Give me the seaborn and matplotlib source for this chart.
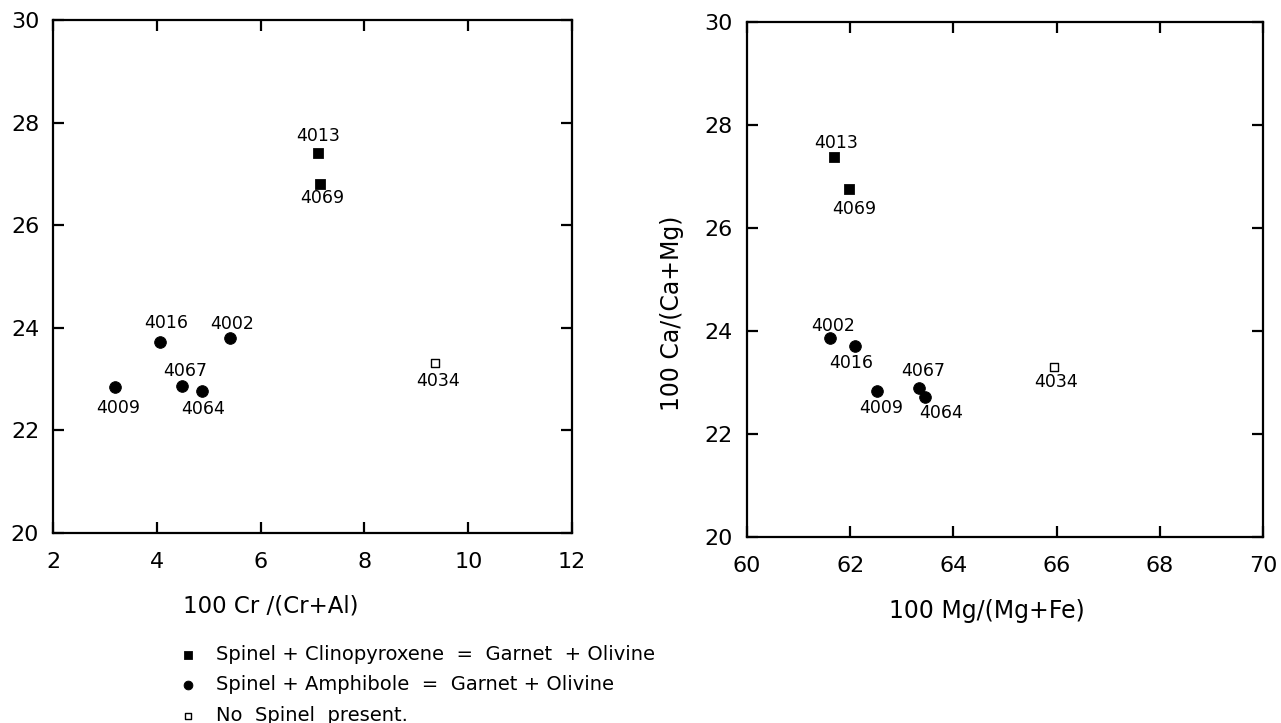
import pandas as pd
import matplotlib
matplotlib.use('Agg')
import matplotlib.pyplot as plt
import seaborn as sns

sns.set_style('ticks')
plt.rcParams['font.family'] = ['DejaVu Sans']
plt.rcParams['text.color'] = 'black'
plt.rcParams['axes.edgecolor'] = 'black'
plt.rcParams['axes.labelcolor'] = 'black'
plt.rcParams['xtick.color'] = 'black'
plt.rcParams['ytick.color'] = 'black'

# 样品数据
samples = ['4013', '4069', '4016', '4002', '4009', '4067', '4064', '4034']
groups = ['cpx', 'cpx', 'amph', 'amph', 'amph', 'amph', 'amph', 'none']
cr_al = [7.10, 7.14, 4.06, 5.41, 3.20, 4.49, 4.87, 9.35]
mg_fe = [61.68, 61.97, 62.09, 61.60, 62.53, 63.33, 63.46, 65.96]
ca_mg_left = [27.41, 26.80, 23.72, 23.81, 22.84, 22.87, 22.76, 23.31]
ca_mg_right = [27.37, 26.76, 23.70, 23.87, 22.83, 22.89, 22.72, 23.31]

legend_labels = {
    'cpx': 'Spinel + Clinopyroxene  =  Garnet  + Olivine',
    'amph': 'Spinel + Amphibole  =  Garnet + Olivine',
    'none': 'No  Spinel  present.',
}

df = pd.DataFrame({'样品': samples, '组': groups, 'CrAl': cr_al, 'MgFe': mg_fe,
                   'Ca_L': ca_mg_left, 'Ca_R': ca_mg_right})

# 标签偏移（像素）
offs_left = {'4013': (0, 17), '4069': (2, -14), '4016': (6, 19), '4002': (2, 14),
             '4009': (3, -21), '4067': (3, 15), '4064': (1, -18), '4034': (4, -18)}
offs_right = {'4013': (2, 14), '4069': (6, -20), '4002': (4, 12), '4016': (-4, -17),
              '4009': (4, -17), '4067': (4, 17), '4064': (16, -16), '4034': (2, -15)}

marker_style = {
    'cpx': dict(marker='s', s=50, color='black', edgecolor='black'),
    'amph': dict(marker='o', s=70, color='black', edgecolor='black'),
    'none': dict(marker='s', s=28, facecolor='white', edgecolor='black', linewidth=1.0),
}

fig = plt.figure(figsize=(12.81, 7.23), dpi=100)
ax1 = fig.add_axes([0.0414, 0.2628, 0.4052, 0.7095])
ax2 = fig.add_axes([0.5831, 0.2573, 0.4028, 0.7123])


def draw_panel(ax, xcol, ycol, offs, with_label):
    for g in ['cpx', 'amph', 'none']:
        sub = df[df['组'] == g]
        sns.scatterplot(data=sub, x=xcol, y=ycol, ax=ax, legend=False,
                        label=legend_labels[g] if with_label else None,
                        **marker_style[g])
    for _, r in df.iterrows():
        dx, dy = offs[r['样品']]
        ax.annotate(r['样品'], (r[xcol], r[ycol]), xytext=(dx, dy),
                    textcoords='offset pixels', ha='center', va='center', fontsize=12.5)
    for sp in ax.spines.values():
        sp.set_linewidth(1.6)
        sp.set_visible(True)
    ax.tick_params(direction='in', length=8, width=1.6, top=True, right=True,
                   labelsize=16, pad=10)
    ax.tick_params(axis='x', pad=14)
    ax.set_ylim(20, 30)
    ax.set_yticks([20, 22, 24, 26, 28, 30])


draw_panel(ax1, 'CrAl', 'Ca_L', offs_left, True)
ax1.set_xlim(2, 12)
ax1.set_xticks([2, 4, 6, 8, 10, 12])
ax1.set_xlabel('100 Cr /(Cr+Al)', fontsize=16.5)
ax1.set_ylabel('')
ax1.xaxis.set_label_coords(0.42, -0.12)

draw_panel(ax2, 'MgFe', 'Ca_R', offs_right, False)
ax2.set_xlim(60, 70)
ax2.set_xticks([60, 62, 64, 66, 68, 70])
ax2.set_xlabel('100 Mg/(Mg+Fe)', fontsize=17)
ax2.set_ylabel('100 Ca/(Ca+Mg)', fontsize=17)
ax2.xaxis.set_label_coords(0.465, -0.12)
ax2.yaxis.set_label_coords(-0.122, 0.435)

handles, labels = ax1.get_legend_handles_labels()
fig.legend(handles, labels, loc='upper left', bbox_to_anchor=(0.135, 0.119),
           frameon=False, fontsize=14, handletextpad=1.0, labelspacing=0.6,
           borderaxespad=0, handlelength=0.8, markerscale=0.75)

fig.savefig('out.png', dpi=100)
